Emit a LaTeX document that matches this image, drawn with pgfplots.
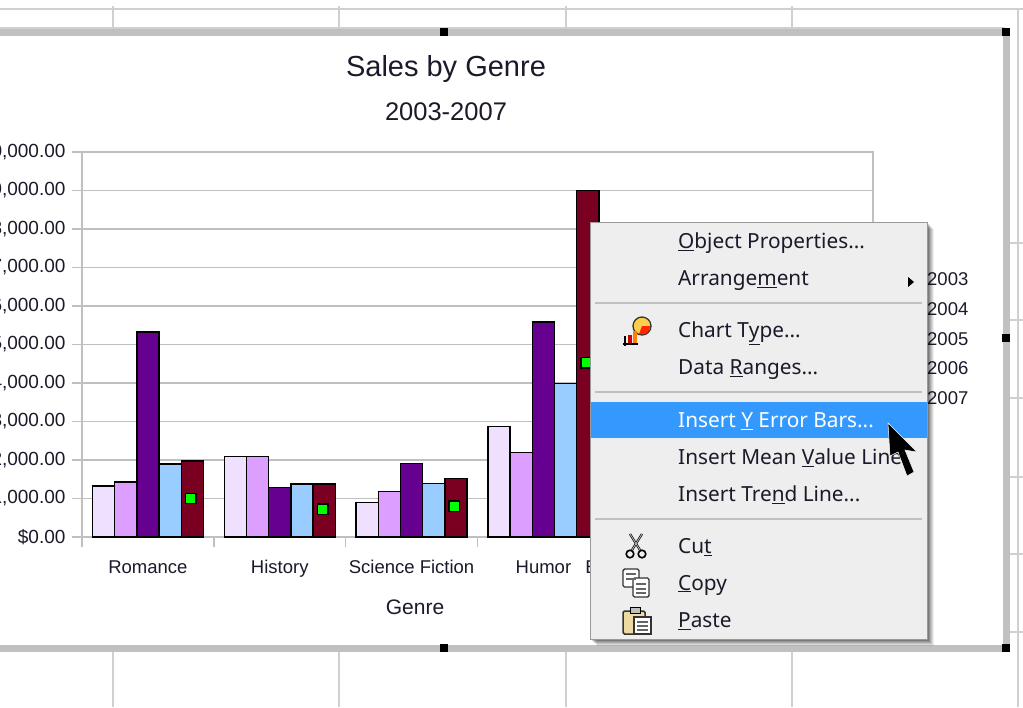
\documentclass[border=0pt]{standalone}
\usepackage{fontspec}
\setmainfont{Liberation Sans}
\newfontfamily\menufont{Noto Sans}
\usepackage{pgfplots}
\pgfplotsset{compat=1.18}
\definecolor{gridgray}{HTML}{C0C0C0}
\definecolor{sheetgray}{HTML}{D0D0D0}
\definecolor{txt}{HTML}{1A1A2A}
\definecolor{c2003}{HTML}{F0E0FF}
\definecolor{c2004}{HTML}{DC9FFF}
\definecolor{c2005}{HTML}{660090}
\definecolor{c2006}{HTML}{99CCFF}
\definecolor{c2007}{HTML}{7A0022}
\definecolor{menubg}{HTML}{EEEEEE}
\definecolor{hilite}{HTML}{3399FF}
\newcommand{\fs}[1]{\fontsize{#1}{#1}\selectfont}
\begin{document}
\begin{tikzpicture}
\path[use as bounding box] (0pt,0pt) rectangle (1023pt,-707pt);
\clip (0pt,0pt) rectangle (1023pt,-707pt);
\fill[white] (0pt,0pt) rectangle (1023pt,-707pt);

% spreadsheet behind the chart
\begin{scope}[x=1pt,y=-1pt,draw=sheetgray,line width=1.5pt]
\draw (0,9) -- (1023,9);
\foreach \x in {113,339,566,792} {
  \draw (\x,6) -- (\x,29);
  \draw (\x,651) -- (\x,707);
}
\draw (1018,9) -- (1018,707);
\foreach \y in {243,320,398,477,554,632} \draw (1010,\y) -- (1023,\y);
\draw (0,28) -- (1005,28);
\end{scope}

\begin{axis}[
    at={(82pt,-537pt)},
    anchor=south west,
    scale only axis,
    width=791pt,
    height=385pt,
    xmin=0, xmax=6,
    ymin=0, ymax=10000,
    scaled y ticks=false,
    xtick={0,1,2,3,4,5,6},
    x tick label as interval,
    xticklabels={Romance,History,Science Fiction,Humor,{\makebox[180pt][l]{E}},{}},
    ytick={0,1000,2000,3000,4000,5000,6000,7000,8000,9000,10000},
    yticklabels={\$0.00,{1,000.00},{2,000.00},{3,000.00},{4,000.00},{5,000.00},{6,000.00},{7,000.00},{8,000.00},{9,000.00},{10,000.00}},
    xtick pos=bottom,
    ytick pos=left,
    tick align=outside,
    major tick length=10pt,
    tick style={draw=gridgray,line width=1.5pt},
    axis line style={draw=gridgray,line width=1.5pt},
    ymajorgrids,
    grid style={draw=gridgray,line width=1.5pt},
    tick label style={font=\fs{18.5},text=txt},
    xticklabel style={yshift=-10pt},
    yticklabel style={xshift=-3pt,font=\fs{19}},
    clip=false,
]
\addplot[ybar,bar width=22.2pt,bar shift=-44.4pt,draw=black,line width=1.4pt,fill=c2003] coordinates {(0.5,1330) (1.5,2095) (2.5,900) (3.5,2875)};
\addplot[ybar,bar width=22.2pt,bar shift=-22.2pt,draw=black,line width=1.4pt,fill=c2004] coordinates {(0.5,1430) (1.5,2095) (2.5,1185) (3.5,2200)};
\addplot[ybar,bar width=22.2pt,bar shift=0pt,draw=black,line width=1.4pt,fill=c2005] coordinates {(0.5,5330) (1.5,1290) (2.5,1910) (3.5,5585)};
\addplot[ybar,bar width=22.2pt,bar shift=22.2pt,draw=black,line width=1.4pt,fill=c2006] coordinates {(0.5,1900) (1.5,1375) (2.5,1385) (3.5,3985)};
\addplot[ybar,bar width=22.2pt,bar shift=44.4pt,draw=black,line width=1.4pt,fill=c2007] coordinates {(0.5,1970) (1.5,1375) (2.5,1525) (3.5,9000)};
% mean markers on the last bar of each group
\addplot[only marks,mark=square*,mark size=5.2pt,mark options={draw=black,line width=1.4pt,fill=green}] coordinates {(0.8245,1000) (1.826,720) (2.822,800) (3.823,4520)};
\end{axis}

\begin{scope}[x=1pt,y=-1pt]
% titles and legend text
\node[text=txt,font=\fs{29}] at (446,69) {Sales by Genre};
\node[text=txt,font=\fs{25.5}] at (446,112) {2003-2007};
\node[text=txt,font=\fs{21}] at (415,607) {Genre};
\foreach \y/\t in {279/2003,309/2004,339/2005,368/2006,398/2007}
  \node[text=txt,font=\fs{18.5},anchor=west,inner sep=0pt] at (927,\y) {\t};

% frame and handles
\fill[gridgray] (-5,28.5) rectangle (1010,35.5);
\fill[gridgray] (-5,644.5) rectangle (1010,651.5);
\fill[gridgray] (1003,28.5) rectangle (1010,651.5);
\foreach \x/\y in {444/32,1006/32,1006/338,444/648,1006/648}
  \fill[black] (\x-4,\y-4) rectangle (\x+4,\y+4);

% context menu
\foreach \d/\o in {7/0.07,6/0.08,5/0.1,4/0.12,3/0.14,2/0.16}
  \fill[black,opacity=\o] (590+\d,222+\d) rectangle (927+\d,639+\d);
\fill[menubg,draw=gray!80,line width=1pt] (590,222) rectangle (927,639);
\fill[hilite] (590.5,402) rectangle (926.5,438);
\foreach \y in {303,392,519} \draw[gridgray,line width=1.5pt] (595,\y) -- (922,\y);
\begin{scope}[every node/.style={anchor=west,inner sep=0pt,font=\menufont\fs{20.8},text=txt}]
\node at (678,243) {\underline{O}bject Properties...};
\node at (678,281) {Arrange\underline{m}ent};
\node at (678,333) {Chart T\underline{y}pe...};
\node at (678,370) {Data \underline{R}anges...};
\node[text=white] at (678,421) {Insert \underline{Y} Error Bars...};
\node at (678,458) {Insert Mean \underline{V}alue Line};
\node at (678,495) {Insert Tre\underline{n}d Line...};
\node at (678,547) {Cu\underline{t}};
\node at (678,585) {\underline{C}opy};
\node at (678,621) {\underline{P}aste};
\end{scope}
\fill[black] (908,277) -- (914,282) -- (908,287) -- cycle;

% chart type icon
\fill[yellow!50!orange!70,draw=black!80,line width=1.3pt] (642,326) circle (9);
\fill[red!70!orange] (642,326) -- (650,326) -- (649,331) -- (645,334) -- (639,334) -- cycle;
\draw[black,line width=1.2pt] (623,344) -- (638,344) (625,336) -- (625,346);
\fill[red!80!black] (628,335) rectangle (632,343);
\fill[orange] (633,331) rectangle (637,343);

% scissors
\draw[black,line width=2.2pt] (630,534) -- (640,550) (642,534) -- (632,550);
\draw[white!70!black,line width=0.9pt] (630,534) -- (640,550) (642,534) -- (632,550);
\draw[black,line width=1.6pt] (630,554) circle (3.8) (642,554) circle (3.8);

% copy
\draw[black!80,fill=white,line width=1.4pt,rounded corners=1.5pt] (623,569) rectangle (639,587);
\draw[black!80,fill=white,line width=1.4pt,rounded corners=1.5pt] (633,578) rectangle (649,597);
\foreach \y in {574,579} \draw[black!60,line width=1.2pt] (626,\y) -- (636,\y);
\foreach \y in {584,589,593} \draw[black!60,line width=1.2pt] (636,\y) -- (646,\y);

% paste
\draw[black!80,fill=yellow!35!brown!45,line width=1.5pt,rounded corners=1.5pt] (623,611) rectangle (645,634);
\draw[black,fill=gray!50,line width=1pt] (630,607) rectangle (640,613);
\draw[black!80,fill=white,line width=1.3pt] (634,617) rectangle (651,634);
\foreach \y in {622,626,630} \draw[black!60,line width=1.1pt] (637,\y) -- (648,\y);

% mouse pointer
\fill[black,draw=white,line width=0.5pt] (888,423) -- (890,456) -- (898,452) -- (907,476) -- (914,472) -- (905,450) -- (917,452) -- cycle;
\end{scope}
\end{tikzpicture}
\end{document}
